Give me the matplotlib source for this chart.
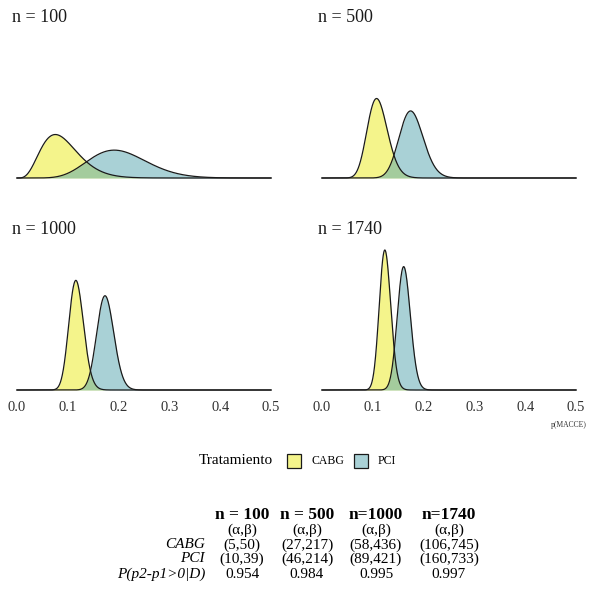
import math

import matplotlib

matplotlib.use("Agg")
import matplotlib.pyplot as plt
import numpy as np
from matplotlib.patches import Rectangle

plt.rcParams["font.family"] = ["Liberation Serif", "DejaVu Serif"]

W, H = 589, 593  # figure size in pixels

# posterior Beta parameters per sample size (from the table in the figure)
panel_titles = ["n = 100", "n = 500", "n = 1000", "n = 1740"]
table_heads = ["n = 100", "n = 500", "n=1000", "n=1740"]
cabg_a = [5, 27, 58, 106]
cabg_b = [50, 217, 436, 745]
pci_a = [10, 46, 89, 160]
pci_b = [39, 214, 421, 733]
p_diff = ["0.954", "0.984", "0.995", "0.997"]
x_ticks = [0.0, 0.1, 0.2, 0.3, 0.4, 0.5]

# parameters of the curves as drawn; the PCI curve in the n=1740 panel sits left of
# what its table entry gives (peak ~0.16), so it is read off the drawing instead
curve_cabg_a = [5, 27, 58, 106]
curve_cabg_b = [50, 217, 436, 745]
curve_pci_a = [10, 46, 89, 133]
curve_pci_b = [39, 214, 421, 690]

YELLOW = "#EBEB19"
BLUE = "#55A5AF"


def beta_pdf(x, a, b):
    lb = math.lgamma(a) + math.lgamma(b) - math.lgamma(a + b)
    out = np.zeros_like(x)
    m = (x > 0) & (x < 1)
    out[m] = np.exp((a - 1) * np.log(x[m]) + (b - 1) * np.log1p(-x[m]) - lb)
    return out


def px_axes(fig, x0, x1, ytop, ybot):
    return fig.add_axes([x0 / W, 1 - ybot / H, (x1 - x0) / W, (ybot - ytop) / H])


def px_text(fig, x, y, s, **kw):
    return fig.text(x / W, 1 - y / H, s, **kw)


x = np.linspace(0, 0.5, 1201)
curves = [(beta_pdf(x, ca, cb), beta_pdf(x, pa, pb))
          for ca, cb, pa, pb in zip(curve_cabg_a, curve_cabg_b, curve_pci_a, curve_pci_b)]
ymax = max(max(c.max(), p.max()) for c, p in curves)

fig = plt.figure(figsize=(W / 100, H / 100), dpi=100)

cols = [(4.3, 283.7), (309.3, 588.7)]
rows = [(31, 185), (243, 397)]
title_pos = [(12, 18), (318, 18), (12, 229), (318, 229)]

for i, (cabg, pci) in enumerate(curves):
    r, c = divmod(i, 2)
    ax = px_axes(fig, cols[c][0], cols[c][1], rows[r][0], rows[r][1])
    ax.fill_between(x, 0, cabg, color=YELLOW, alpha=0.5, lw=0)
    ax.fill_between(x, 0, pci, color=BLUE, alpha=0.5, lw=0)
    ax.plot(x, cabg, color="#1a1a1a", lw=0.9)
    ax.plot(x, pci, color="#1a1a1a", lw=0.9)
    ax.set_xlim(-0.025, 0.525)
    ax.set_ylim(-0.05 * ymax, 1.05 * ymax)
    for s in ax.spines.values():
        s.set_visible(False)
    ax.set_yticks([])
    if r == 1:
        ax.set_xticks(x_ticks)
        ax.set_xticklabels([f"{t:.1f}" for t in x_ticks])
        ax.tick_params(axis="x", length=0, pad=3, labelsize=10.5, labelcolor="#333333")
    else:
        ax.set_xticks([])
    px_text(fig, *title_pos[i], panel_titles[i], fontsize=13, ha="left", va="center",
            color="#1a1a1a")

px_text(fig, 587, 425, "p(MACCE)", fontsize=5.5, ha="right", va="center", color="#333333")

# legend
px_text(fig, 199, 461, "Tratamiento", fontsize=11, ha="left", va="center")
for x0, col, lab in [(287, YELLOW, "CABG"), (354, BLUE, "PCI")]:
    fig.add_artist(Rectangle((x0 / W, 1 - 468 / H), 14 / W, 14 / H, transform=fig.transFigure,
                             facecolor=col, alpha=0.5, edgecolor="none"))
    fig.add_artist(Rectangle((x0 / W, 1 - 468 / H), 14 / W, 14 / H, transform=fig.transFigure,
                             facecolor="none", edgecolor="#1a1a1a", lw=0.9))
    px_text(fig, x0 + 24, 461, lab, fontsize=8.5, ha="left", va="center")

# summary table
col_x = [242, 307, 376, 449]
row_y = [515, 530, 545, 559, 574]
label_x = 205
for cx, head, ca, cb, pa, pb, pd in zip(col_x, table_heads, cabg_a, cabg_b, pci_a, pci_b, p_diff):
    px_text(fig, cx, row_y[0], head, fontsize=12.5, fontweight="bold", ha="center", va="center")
    px_text(fig, cx, row_y[1], "(α,β)", fontsize=11, ha="center", va="center")
    px_text(fig, cx, row_y[2], f"({ca},{cb})", fontsize=11, ha="center", va="center")
    px_text(fig, cx, row_y[3], f"({pa},{pb})", fontsize=11, ha="center", va="center")
    px_text(fig, cx, row_y[4], pd, fontsize=11, ha="center", va="center")
for y, lab in zip(row_y[2:], ["CABG", "PCI", "P(p2-p1>0|D)"]):
    px_text(fig, label_x, y, lab, fontsize=11, style="italic", ha="right", va="center")

fig.savefig("out.png", dpi=100)
